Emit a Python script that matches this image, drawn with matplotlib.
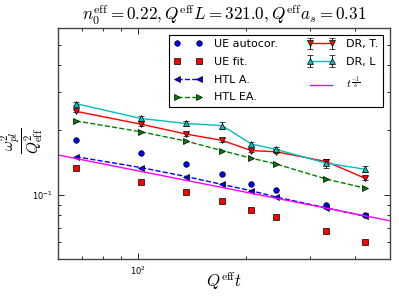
import numpy as np
import matplotlib
matplotlib.use("Agg")
import matplotlib.pyplot as plt
from matplotlib.ticker import NullFormatter

plt.rcParams['mathtext.fontset'] = 'cm'
plt.rcParams['font.family'] = ['DejaVu Sans']

t = [67.3, 102.1, 136.2, 171.4, 206.6, 241.3, 333.4, 425.2]
ue_autocor = [0.1797, 0.156, 0.1392, 0.1251, 0.1124, 0.1055, 0.0899, 0.0808]
ue_fit = [0.1329, 0.1152, 0.1025, 0.093, 0.0846, 0.0789, 0.0676, 0.0604]
htl_a = [0.1504, 0.1338, 0.1215, 0.1116, 0.1043, 0.0976, 0.0868, 0.0794]
htl_ea = [0.2208, 0.1964, 0.1778, 0.1604, 0.1479, 0.1392, 0.1182, 0.1074]
dr_t = [0.2448, 0.2131, 0.1916, 0.1791, 0.1604, 0.1586, 0.1426, 0.1195]
dr_t_err = [0.003, 0.003, 0.003, 0.004, 0.003, 0.003, 0.004, 0.003]
dr_l = [0.2658, 0.2265, 0.2147, 0.2098, 0.1722, 0.1627, 0.1402, 0.1315]
dr_l_err = [0.005, 0.006, 0.005, 0.008, 0.004, 0.005, 0.007, 0.004]
power_coef = 0.6
t_line = [60, 500]

fig = plt.figure(figsize=(3.99, 2.99), dpi=100)
ax = fig.add_axes([57.7/399, 1-259.3/299, (390-57.7)/399, (259.3-27.7)/299])

mk = dict(markeredgecolor='black', markeredgewidth=0.5, markersize=4)
h1, = ax.plot(t, ue_autocor, 'o', color='blue', label='UE autocor.', **mk)
h2, = ax.plot(t, ue_fit, 's', color='red', label='UE fit.', **mk)
h3, = ax.plot(t, htl_a, '<--', color='blue', label='HTL A.', lw=1, **mk)
h4, = ax.plot(t, htl_ea, '>--', color='green', label='HTL EA.', lw=1, **mk)
h5 = ax.errorbar(t, dr_t, yerr=dr_t_err, fmt='v-', color='red', ecolor='black',
                 elinewidth=0.6, capsize=2, capthick=0.6, label='DR, T.', lw=1, **mk)
h6 = ax.errorbar(t, dr_l, yerr=dr_l_err, fmt='^-', color='c', ecolor='black',
                 elinewidth=0.6, capsize=2, capthick=0.6, label='DR, L', lw=1, **mk)
tl = np.array(t_line, dtype=float)
h7, = ax.plot(tl, power_coef * tl ** (-1/3), '-', color='magenta', lw=1,
              label=r'$t^{\frac{-1}{3}}$')

ax.set_xscale('log')
ax.set_yscale('log')
ax.set_xlim(60, 500)
ax.set_ylim(0.05, 0.6)
ax.xaxis.set_minor_formatter(NullFormatter())
ax.yaxis.set_minor_formatter(NullFormatter())
ax.tick_params(which='both', direction='in', top=True, right=True, labelsize=6)
ax.tick_params(which='major', length=4, width=0.6)
ax.tick_params(which='minor', length=2, width=0.6)
for s in ax.spines.values():
    s.set_linewidth(1.0)
    s.set_color('#444444')

ax.set_title(r'$n_0^{\rm eff} = 0.22, Q^{\rm eff}L = 321.0, Q^{\rm eff}a_s = 0.31$',
             fontsize=12.3, pad=5)
fig.text(224/399, 1-281/299, r'$Q^{\rm eff}t$', fontsize=12, ha='center', va='center')
fig.text(22/399, 1-141/299, r'$\dfrac{\omega_{pl}^2}{Q_{\rm eff}^2}$', fontsize=11,
         ha='center', va='center', rotation=90)

handles = [h1, h2, h3, h4, h5, h6, h7]
labels = [h.get_label() for h in handles]
leg = ax.legend(handles, labels, ncol=2, loc='upper right', fontsize=8, numpoints=2,
                fancybox=False, edgecolor='black', framealpha=1, labelspacing=0.7,
                handlelength=2.6, handletextpad=1.0, columnspacing=2.6,
                borderaxespad=0.63, borderpad=0.4)
leg.get_frame().set_linewidth(0.8)

fig.savefig('out.png', dpi=100)
